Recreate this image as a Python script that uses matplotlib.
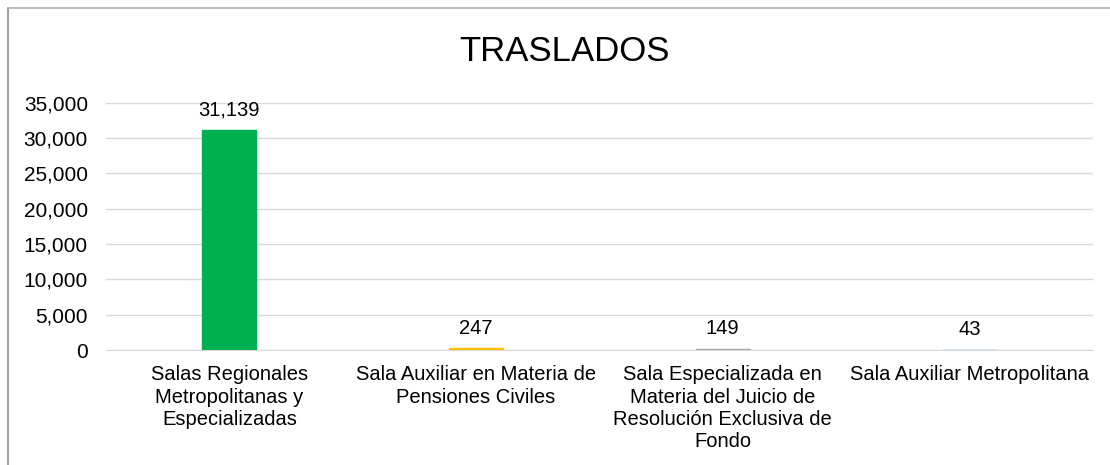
import matplotlib.pyplot as plt
from matplotlib.ticker import FuncFormatter
from matplotlib.lines import Line2D

categories = [
    "Salas Regionales\nMetropolitanas y\nEspecializadas",
    "Sala Auxiliar en Materia de\nPensiones Civiles",
    "Sala Especializada en\nMateria del Juicio de\nResolución Exclusiva de\nFondo",
    "Sala Auxiliar Metropolitana",
]
values = [31139, 247, 149, 43]
colors = ["#00B050", "#FFC000", "#A5A5A5", "#5B9BD5"]

plt.rcParams["font.family"] = ["Liberation Sans", "DejaVu Sans"]

fig = plt.figure(figsize=(11.1, 4.65), dpi=100)
ax = fig.add_axes([0.0955, 0.247, 0.889, 0.532])

x = list(range(len(categories)))
ax.bar(x, values, width=0.22, color=colors, edgecolor=colors, linewidth=1.0, zorder=3)
for xi, v in zip(x, values):
    ax.text(xi, v + 1500, f"{v:,}", ha="center", va="bottom", fontsize=14.5)

ax.set_xlim(-0.5, len(categories) - 0.5)
ax.set_ylim(0, 35000)
ax.set_yticks(range(0, 35001, 5000))
ax.yaxis.set_major_formatter(FuncFormatter(lambda v, p: f"{int(v):,}"))
ax.set_xticks(x)
ax.set_xticklabels(categories, fontsize=14.5, linespacing=1.22)
ax.tick_params(axis="both", length=0)
ax.tick_params(axis="y", pad=13, labelsize=15)
ax.tick_params(axis="x", pad=11)
ax.grid(axis="y", color="#d9d9d9", linewidth=1, zorder=0)
for s in ["top", "right", "left"]:
    ax.spines[s].set_visible(False)
ax.spines["bottom"].set_color("#d9d9d9")

fig.text(0.509, 0.89, "TRASLADOS", ha="center", va="center", fontsize=25)

# chart border (left and top edges visible)
fig.add_artist(Line2D([0.0075, 0.0075], [0, 0.983], color="#8c8c8c", linewidth=1.2, transform=fig.transFigure))
fig.add_artist(Line2D([0.0075, 1], [0.983, 0.983], color="#b0b0b0", linewidth=1.2, transform=fig.transFigure))

fig.savefig("out.png", dpi=100)
